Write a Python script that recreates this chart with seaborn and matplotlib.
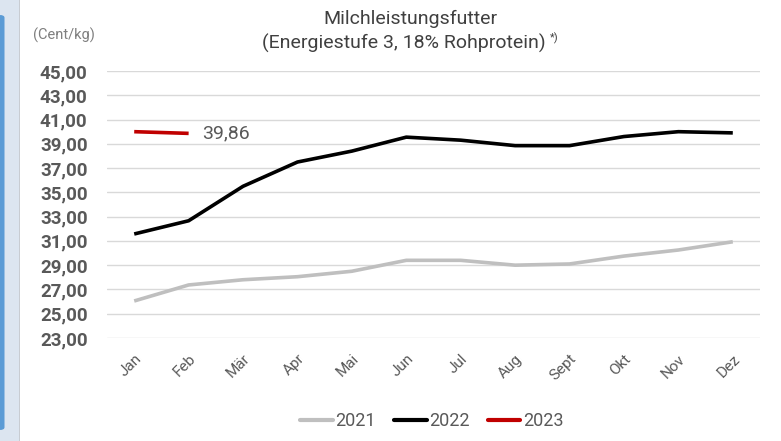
import matplotlib
matplotlib.use("Agg")
import matplotlib.pyplot as plt
import seaborn as sns
import pandas as pd
from matplotlib.patches import Rectangle, FancyBboxPatch
from matplotlib.lines import Line2D

months = ["Jan", "Feb", "Mär", "Apr", "Mai", "Jun", "Jul", "Aug", "Sept", "Okt", "Nov", "Dez"]
v2021 = [26.05, 27.37, 27.8, 28.05, 28.5, 29.4, 29.4, 29.0, 29.1, 29.75, 30.25, 30.93]
v2022 = [31.57, 32.66, 35.5, 37.5, 38.4, 39.55, 39.3, 38.85, 38.85, 39.6, 40.0, 39.9]
v2023 = [40.0, 39.86]
years = ["2021", "2022", "2023"]
colors = ["#bfbfbf", "#000000", "#c00000"]
yticks = [23, 25, 27, 29, 31, 33, 35, 37, 39, 41, 43, 45]

rows = []
for yr, vals in zip(years, [v2021, v2022, v2023]):
    for i, v in enumerate(vals):
        rows.append({"idx": i, "month": months[i], "value": v, "year": yr})
df = pd.DataFrame(rows)

sns.set_theme(style="white")
plt.rcParams["font.family"] = ["Roboto", "DejaVu Sans"]

fig = plt.figure(figsize=(7.81, 4.41), dpi=100)
fig.patch.set_facecolor("white")

# left decoration
fig.add_artist(Rectangle((0, 0), 19 / 781, 1, transform=fig.transFigure,
                         facecolor="#dce5f0", edgecolor="none", zorder=0))
fig.add_artist(Rectangle((19 / 781, 0), 1.2 / 781, 1, transform=fig.transFigure,
                         facecolor="#c8ccd2", edgecolor="none", zorder=0))
fig.add_artist(FancyBboxPatch((-4 / 781, 11 / 441), 8.5 / 781, 415 / 441,
                              boxstyle="round,pad=0,rounding_size=0.006",
                              transform=fig.transFigure, facecolor="#5b9bd5",
                              edgecolor="none", zorder=1))

ax = fig.add_axes([107 / 781, 1 - 338 / 441, (760 - 107) / 781, (338 - 71) / 441])
ax.set_facecolor("none")

sns.lineplot(data=df, x="idx", y="value", hue="year", palette=colors,
             hue_order=years, linewidth=2.6, ax=ax, legend=False, sort=False)
for ln in ax.lines:
    ln.set_solid_joinstyle("round")
    ln.set_solid_capstyle("butt")

ax.set_xlim(-0.5, 11.5)
ax.set_ylim(23, 45)
ax.set_yticks(yticks)
ax.set_yticklabels([f"{t:.2f}".replace(".", ",") for t in yticks],
                   fontsize=13.5, color="#595959", fontweight="semibold")
ax.set_xticks(range(len(months)))
ax.set_xticklabels(months, rotation=45, ha="right", rotation_mode="anchor",
                   fontsize=11, color="#595959")
ax.tick_params(axis="x", length=0, pad=10)
ax.tick_params(axis="y", length=0, pad=14)
ax.grid(axis="y", color="#d9d9d9", linewidth=1.0)
ax.set_axisbelow(True)
for s in ax.spines.values():
    s.set_visible(False)
ax.set_xlabel("")
ax.set_ylabel("")

# data label
ax.annotate("39,86", xy=(1, v2023[1]), xytext=(10, 0), textcoords="offset points",
            va="center", ha="left", fontsize=14, color="#595959")

# title and unit
fig.text(410 / 781, 1 - 19 / 441, "Milchleistungsfutter", ha="center", va="center",
         fontsize=14, color="#404040")
fig.text(404 / 781, 1 - 43 / 441, "(Energiestufe 3, 18% Rohprotein)",
         ha="center", va="center", fontsize=14, color="#404040")
fig.text(550 / 781, 1 - 38 / 441, "*)", ha="left", va="center",
         fontsize=8, color="#404040")
fig.text(33 / 781, 1 - 35 / 441, "(Cent/kg)", ha="left", va="center",
         fontsize=10.5, color="#7f7f7f")

# legend
handles = [Line2D([0], [0], color=c, lw=3) for c in colors]
fig.legend(handles, years, loc="center", bbox_to_anchor=(432 / 781, 1 - 421 / 441),
           ncol=3, frameon=False, fontsize=13, handlelength=1.8, handletextpad=0.15,
           columnspacing=1.0, labelcolor="#595959")

fig.savefig("out.png", dpi=100)
